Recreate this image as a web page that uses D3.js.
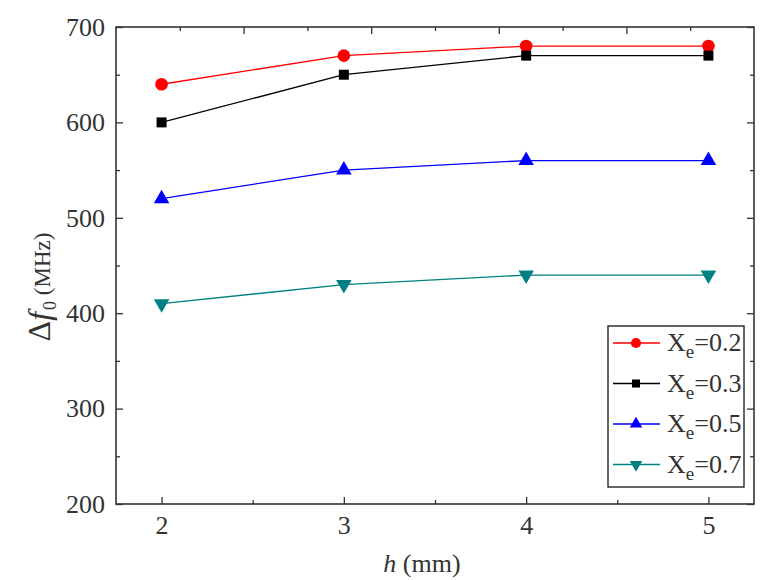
<!DOCTYPE html>
<html lang="en">
<head>
    <meta charset="UTF-8">
    <title>Δf0 vs h</title>
    <script src="https://d3js.org/d3.v7.min.js"></script>
    <style>
        body {
            margin: 0;
            background: #fff;
        }
    </style>
</head>
<body>
<div id="chart"></div>
<script>
    // data
    const hValues = [2, 3, 4, 5];
    const xe02 = [640, 670, 680, 680];
    const xe03 = [600, 650, 670, 670];
    const xe05 = [520, 550, 560, 560];
    const xe07 = [410, 430, 440, 440];
    const seriesNames = ["0.2", "0.3", "0.5", "0.7"];

    const xMajor = [2, 3, 4, 5];
    const xMinor = [2.5, 3.5, 4.5];
    const yMajor = [200, 300, 400, 500, 600, 700];
    const yMinor = [250, 350, 450, 550, 650];
    // the top frame ticks in the picture don't line up with the bottom ones
    const topMajor = [2.45, 3.15, 3.85, 4.55];
    const topMinor = [2.1, 2.8, 3.5, 4.2, 4.9];

    const width = 767, height = 580;
    const margin = {top: 27, right: 13, bottom: 76, left: 116};
    const serif = "'Liberation Serif', serif";

    const svg = d3.select("#chart").append("svg")
        .attr("width", width)
        .attr("height", height)
        .attr("font-family", serif);

    const x = d3.scaleLinear().domain([1.75, 5.25]).range([margin.left, width - margin.right]);
    const y = d3.scaleLinear().domain([200, 700]).range([height - margin.bottom, margin.top]);

    const series = [
        {name: seriesNames[0], values: xe02, color: "#ff0000", symbol: d3.symbolCircle, size: 125, rot: 0},
        {name: seriesNames[1], values: xe03, color: "#000000", symbol: d3.symbolSquare, size: 100, rot: 0},
        {name: seriesNames[2], values: xe05, color: "#0000ff", symbol: d3.symbolTriangle, size: 105, rot: 0},
        {name: seriesNames[3], values: xe07, color: "#008080", symbol: d3.symbolTriangle, size: 105, rot: 180}
    ];

    // axes, ticks pointing inward
    const x0 = x.range()[0], x1 = x.range()[1];
    const y0 = y.range()[0], y1 = y.range()[1];

    function addAxis(axis, tx, ty, showLabels) {
        const g = svg.append("g").attr("transform", `translate(${tx},${ty})`).call(axis);
        g.attr("font-family", serif);
        g.select(".domain").remove();
        g.selectAll("line").attr("stroke", "#333").attr("stroke-width", 1.3);
        if (showLabels) {
            g.selectAll("text")
                .style("font-family", serif)
                .style("font-size", "26px")
                .attr("fill", "#333");
        } else {
            g.selectAll("text").remove();
        }
        return g;
    }

    addAxis(d3.axisBottom(x).tickValues(xMajor).tickSizeInner(-7).tickSizeOuter(0).tickPadding(12).tickFormat(d3.format("d")), 0, y0, true);
    addAxis(d3.axisBottom(x).tickValues(xMinor).tickSizeInner(-4).tickSizeOuter(0), 0, y0, false);
    addAxis(d3.axisLeft(y).tickValues(yMajor).tickSizeInner(-7).tickSizeOuter(0).tickPadding(11).tickFormat(d3.format("d")), x0, 0, true);
    addAxis(d3.axisLeft(y).tickValues(yMinor).tickSizeInner(-4).tickSizeOuter(0), x0, 0, false);
    addAxis(d3.axisTop(x).tickValues(topMajor).tickSizeInner(-7).tickSizeOuter(0), 0, y1, false);
    addAxis(d3.axisTop(x).tickValues(topMinor).tickSizeInner(-4).tickSizeOuter(0), 0, y1, false);
    addAxis(d3.axisRight(y).tickValues(yMajor).tickSizeInner(-7).tickSizeOuter(0), x1, 0, false);
    addAxis(d3.axisRight(y).tickValues(yMinor).tickSizeInner(-4).tickSizeOuter(0), x1, 0, false);

    // frame
    svg.append("rect")
        .attr("x", x0).attr("y", y1)
        .attr("width", x1 - x0).attr("height", y0 - y1)
        .attr("fill", "none")
        .attr("stroke", "#333")
        .attr("stroke-width", 1.6);

    // lines and markers
    const line = d3.line().x((d, i) => x(hValues[i])).y(d => y(d));

    series.forEach(s => {
        svg.append("path")
            .datum(s.values)
            .attr("d", line)
            .attr("fill", "none")
            .attr("stroke", s.color)
            .attr("stroke-width", 1.3);

        svg.selectAll(null)
            .data(s.values)
            .enter().append("path")
            .attr("d", d3.symbol().type(s.symbol).size(s.size))
            .attr("transform", (d, i) => `translate(${x(hValues[i])},${y(d)}) rotate(${s.rot})`)
            .attr("fill", s.color);
    });

    // axis titles
    svg.append("text")
        .attr("x", 422)
        .attr("y", 572)
        .attr("text-anchor", "middle")
        .attr("fill", "#333")
        .style("font-family", serif)
        .style("font-size", "26px")
        .call(t => {
            t.append("tspan").style("font-style", "italic").text("h");
            t.append("tspan").text(" (mm)");
        });

    svg.append("text")
        .attr("transform", "translate(50,287) rotate(-90)")
        .attr("text-anchor", "middle")
        .attr("fill", "#333")
        .style("font-family", serif)
        .call(t => {
            t.append("tspan").style("font-size", "32px").text("Δ");
            t.append("tspan").style("font-size", "32px").style("font-style", "italic").text("f");
            t.append("tspan").style("font-size", "18px").attr("dx", 2).attr("dy", 6).text("0");
            t.append("tspan").style("font-size", "23px").attr("dy", -6).text(" (MHz)");
        });

    // legend
    const legend = svg.append("g").attr("transform", "translate(608,326)");
    legend.append("rect")
        .attr("width", 136).attr("height", 161)
        .attr("fill", "#fff")
        .attr("stroke", "#333")
        .attr("stroke-width", 1.5);

    const row = legend.selectAll(".row")
        .data(series)
        .enter().append("g")
        .attr("transform", (d, i) => `translate(0,${17 + i * 40.5})`);

    row.append("line")
        .attr("x1", 5).attr("x2", 52)
        .attr("stroke", d => d.color)
        .attr("stroke-width", 1.3);

    row.append("path")
        .attr("d", d => d3.symbol().type(d.symbol).size(d.size * 0.65)())
        .attr("transform", d => `translate(28,0) rotate(${d.rot})`)
        .attr("fill", d => d.color);

    row.append("text")
        .attr("x", 59)
        .attr("y", 8)
        .attr("fill", "#333")
        .style("font-family", serif)
        .style("font-size", "26px")
        .call(t => {
            t.append("tspan").text("X");
            t.append("tspan").style("font-size", "19px").attr("dy", 7).text("e");
            t.append("tspan").attr("dy", -7).text(d => "=" + d.name);
        });
</script>
</body>
</html>
